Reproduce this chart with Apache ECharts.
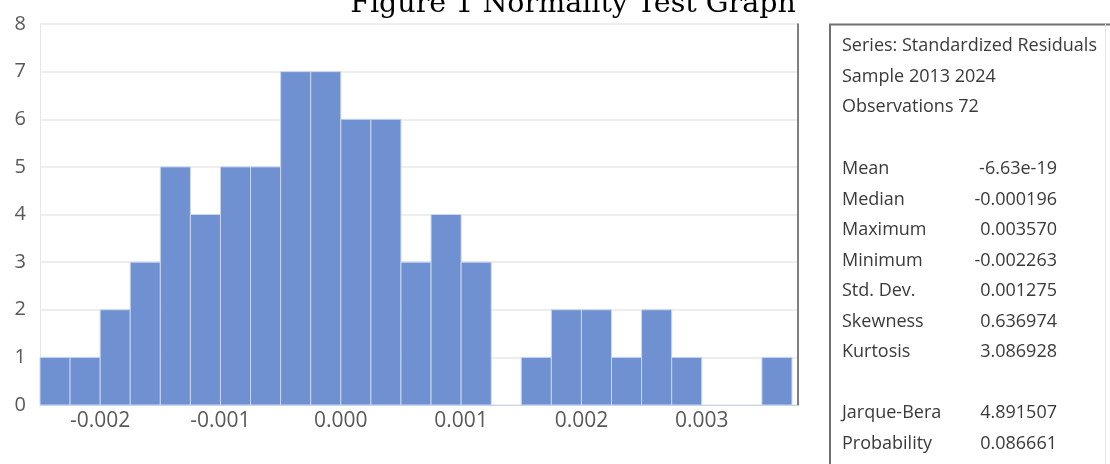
<!DOCTYPE html>
<html>
<head>
<meta charset="utf-8">
<script src="https://cdn.jsdelivr.net/npm/echarts@6/dist/echarts.min.js"></script>
<style>
  html, body { margin: 0; padding: 0; background: #fff; }
  #chart { width: 1110px; height: 464px; }
</style>
</head>
<body>
<div id="chart"></div>
<script>
// histogram bins (lower edge) and counts
const binLeft = [-0.0025, -0.00225, -0.002, -0.00175, -0.0015, -0.00125, -0.001, -0.00075,
  -0.0005, -0.00025, 0, 0.00025, 0.0005, 0.00075, 0.001, 0.00125, 0.0015, 0.00175,
  0.002, 0.00225, 0.0025, 0.00275, 0.003, 0.00325, 0.0035];
const binWidth = 0.00025;
const counts = [1, 1, 2, 3, 5, 4, 5, 5, 7, 7, 6, 6, 3, 4, 3, 0, 1, 2, 2, 1, 2, 1, 0, 0, 1];
const xTicks = [-0.002, -0.001, 0.000, 0.001, 0.002, 0.003];

// statistics panel
const statHeader = ['Series: Standardized Residuals', 'Sample 2013 2024', 'Observations 72'];
const statNames = ['Mean', 'Median', 'Maximum', 'Minimum', 'Std. Dev.', 'Skewness', 'Kurtosis', '', 'Jarque-Bera', 'Probability'];
const statValues = ['-6.63e-19', '-0.000196', '0.003570', '-0.002263', '0.001275', '0.636974', '3.086928', '', '4.891507', '0.086661'];

const chart = echarts.init(document.getElementById('chart'));

const histData = binLeft.map((lo, i) => [lo, lo + binWidth, counts[i]]);

const sans = '"Open Sans", "Noto Sans", sans-serif';
const panelFont = '18px ' + sans;
const graphics = [
  { type: 'polyline', shape: { points: [[830, 470], [830, 24.5], [1112, 24.5]] },
    style: { stroke: '#707070', lineWidth: 2, fill: null } },
  { type: 'line', shape: { x1: 1105.5, y1: 24, x2: 1105.5, y2: 470 },
    style: { stroke: '#e4e4e4', lineWidth: 1 } }
];
statHeader.forEach((t, i) => {
  graphics.push({ type: 'text', x: 842, y: 46 + i * 30.5,
    style: { text: t, fill: '#3a3a3a', font: panelFont, textVerticalAlign: 'middle' } });
});
statNames.forEach((t, i) => {
  if (!t) return;
  const y = 169 + i * 30.5;
  graphics.push({ type: 'text', x: 842, y: y,
    style: { text: t, fill: '#3a3a3a', font: panelFont, textVerticalAlign: 'middle' } });
  graphics.push({ type: 'text', x: 1057, y: y,
    style: { text: statValues[i], fill: '#3a3a3a', font: panelFont, textAlign: 'right', textVerticalAlign: 'middle' } });
});

chart.setOption({
  animation: false,
  title: {
    text: 'Figure 1 Normality Test Graph',
    left: 568,
    textAlign: 'center',
    top: -15,
    textStyle: { fontFamily: '"DejaVu Serif", serif', fontWeight: 'normal', fontSize: 28.5, color: '#000' }
  },
  grid: { left: 40, right: 312, top: 24, bottom: 59 },
  xAxis: {
    type: 'value',
    min: -0.0025,
    max: 0.0038,
    interval: 0.001,
    axisLine: { show: true, onZero: false, lineStyle: { color: '#c9d6ea', width: 1 } },
    axisTick: { show: false },
    splitLine: { show: false },
    axisLabel: {
      color: '#595959', fontSize: 21, fontFamily: sans, margin: 6,
      customValues: xTicks,
      formatter: v => v.toFixed(3)
    }
  },
  yAxis: [{
    type: 'value',
    min: 0,
    max: 8,
    interval: 1,
    axisLine: { show: true, onZero: false, lineStyle: { color: '#e6e6e6' } },
    axisTick: { show: false },
    splitLine: { show: true, lineStyle: { color: '#e8e8e8', width: 1.5 } },
    axisLabel: { color: '#595959', fontSize: 20, fontFamily: sans, margin: 14 }
  }, {
    type: 'value',
    position: 'right',
    min: 0,
    max: 8,
    interval: 1,
    axisLine: { show: true, onZero: false, lineStyle: { color: '#555', width: 1.5 } },
    axisTick: { show: false },
    axisLabel: { show: false },
    splitLine: { show: false }
  }],
  series: [{
    type: 'custom',
    data: histData,
    encode: { x: [0, 1], y: 2 },
    renderItem: function (params, api) {
      if (!api.value(2)) return null;
      const p0 = api.coord([api.value(0), 0]);
      const p1 = api.coord([api.value(1), api.value(2)]);
      return {
        type: 'rect',
        shape: { x: p0[0], y: p1[1], width: p1[0] - p0[0], height: p0[1] - p1[1] },
        style: { fill: '#6f90d1', stroke: '#c8d6ee', lineWidth: 1 }
      };
    }
  }],
  graphic: graphics
});
</script>
</body>
</html>
